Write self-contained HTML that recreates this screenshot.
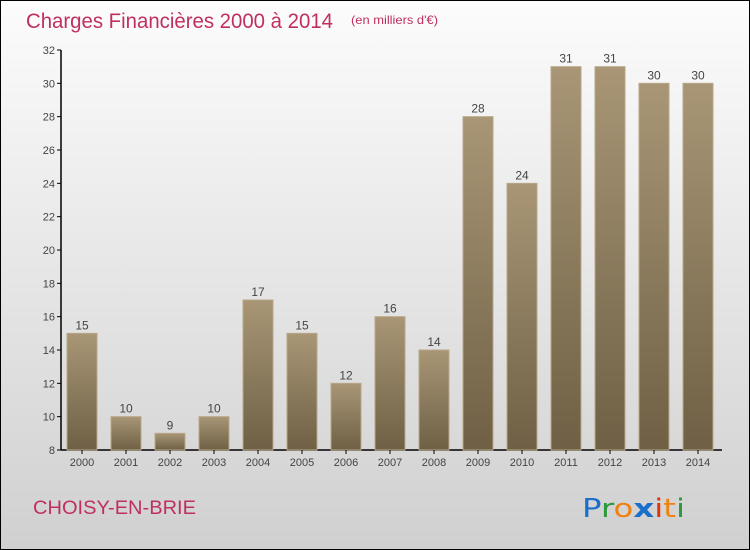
<!DOCTYPE html>
<html><head><meta charset="utf-8">
<style>
html,body{margin:0;padding:0}
body{width:750px;height:550px;overflow:hidden;font-family:"Liberation Sans",sans-serif}
#frame{position:absolute;left:0;top:0;width:748px;height:548px;border:1px solid #000;background:linear-gradient(#fcfcfc,#d0d0d0)}
svg{position:absolute;left:0;top:0}
</style></head>
<body>
<div id="frame"></div>
<svg width="750" height="550" id="chart" font-family="Liberation Sans, sans-serif">
<defs>
<linearGradient id="bg" x1="0" y1="0" x2="0" y2="1">
<stop offset="0" stop-color="#a89676"/><stop offset="1" stop-color="#6f6045"/>
</linearGradient>
</defs>
<text x="26" y="28" font-size="21" fill="#c0305e" textLength="307" lengthAdjust="spacingAndGlyphs">Charges Financières 2000 à 2014</text>
<text x="351" y="24" font-size="12" fill="#c0305e" textLength="87" lengthAdjust="spacingAndGlyphs">(en milliers d'€)</text>
<text x="33" y="514" font-size="19" fill="#c0305e" textLength="163" lengthAdjust="spacingAndGlyphs">CHOISY-EN-BRIE</text>
<g font-size="26" font-family="DejaVu Sans">
<text x="582" y="517" textLength="103" lengthAdjust="spacingAndGlyphs"><tspan fill="#1a6fc9">P</tspan><tspan fill="#2a9a3a">r</tspan><tspan fill="#f08010">o</tspan><tspan fill="#1a6fc9" font-weight="bold">x</tspan><tspan fill="#e03010">i</tspan><tspan fill="#f08010">t</tspan><tspan fill="#2a9a3a">i</tspan></text>
</g>
<g id="plot"></g>
</svg>
<script>
const years=["2000","2001","2002","2003","2004","2005","2006","2007","2008","2009","2010","2011","2012","2013","2014"];
const values=[15,10,9,10,17,15,12,16,14,28,24,31,31,30,30];
const yTicks=[8,10,12,14,16,18,20,22,24,26,28,30,32];
const NS="http://www.w3.org/2000/svg";
const plot=document.getElementById('plot');
const y=v=>450-(v-8)*400/24;
const x=i=>82+i*44;
function mk(t,a){const e=document.createElementNS(NS,t);for(const k in a)e.setAttribute(k,a[k]);plot.appendChild(e);return e;}
const ax=mk('line',{x1:61,y1:50,x2:61,y2:450,stroke:'#000','stroke-width':1.5});


const xa=mk('line',{x1:61,y1:450,x2:722,y2:450,stroke:'#000','stroke-width':1.5});


yTicks.forEach(t=>{
 const l=mk('line',{x1:57,y1:y(t),x2:61,y2:y(t),stroke:'#000'});
 
 
 const tx=mk('text',{x:55,y:y(t)+4,'font-size':11,fill:'#444','text-anchor':'end'});
 tx.textContent=t;
 
 
});
values.forEach((v,i)=>{
 const r=mk('rect',{x:x(i)-15,y:y(v),width:30,height:450-y(v),fill:'url(#bg)',stroke:'#b8a888','stroke-width':1});
 
 
 const vl=mk('text',{x:x(i),y:y(v)-4,'font-size':12,fill:'#444','text-anchor':'middle'});
 vl.textContent=v;
 
 
 const tk=mk('line',{x1:x(i),y1:450,x2:x(i),y2:454,stroke:'#000'});
 
 
 const xl=mk('text',{x:x(i),y:466,'font-size':11,fill:'#444','text-anchor':'middle'});
 xl.textContent=years[i];
 
 
});
</script>
</body></html>
